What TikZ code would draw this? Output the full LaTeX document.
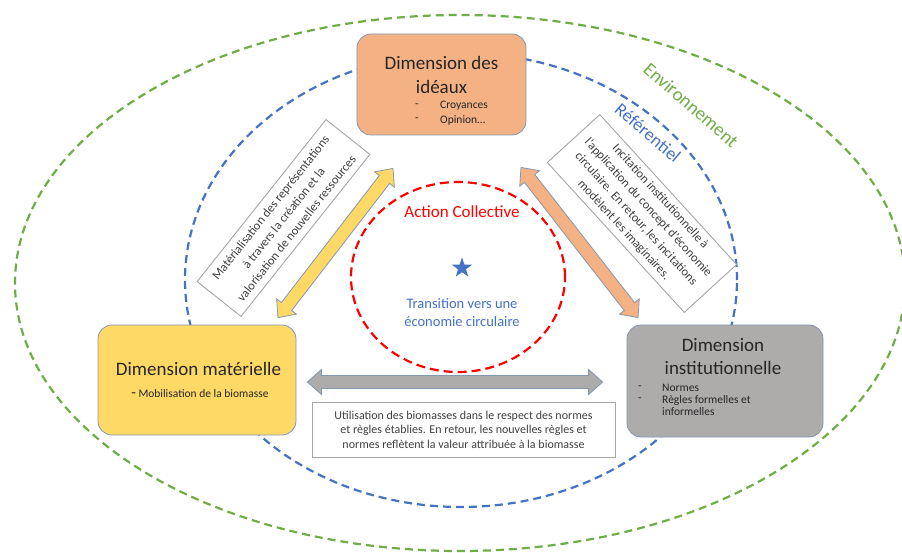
\documentclass[tikz,border=0pt]{standalone}
\usepackage{fontspec}
\setmainfont{Carlito}
\usetikzlibrary{calc,shapes.geometric}
\definecolor{cgreen}{HTML}{70AD47}
\definecolor{cblue}{HTML}{4472C4}
\definecolor{cred}{HTML}{FF0000}
\definecolor{corange}{HTML}{F4B183}
\definecolor{cyellow}{HTML}{FFD966}
\definecolor{cgray}{HTML}{AEABAB}
\definecolor{cedge}{HTML}{8497B0}
\definecolor{ctext}{HTML}{262626}
\definecolor{ctexttwo}{HTML}{404040}
\definecolor{cbox}{HTML}{A6A6A6}
\newcommand\fatarrow[3]{%
\draw[#3] (#1) -- ($(#1)!14pt!(#2)!12.5pt!90:(#2)$) -- ($(#1)!14pt!(#2)!6.5pt!90:(#2)$)
 -- ($(#2)!14pt!(#1)!6.5pt!-90:(#1)$) -- ($(#2)!14pt!(#1)!12.5pt!-90:(#1)$) -- (#2)
 -- ($(#2)!14pt!(#1)!12.5pt!90:(#1)$) -- ($(#2)!14pt!(#1)!6.5pt!90:(#1)$)
 -- ($(#1)!14pt!(#2)!6.5pt!-90:(#2)$) -- ($(#1)!14pt!(#2)!12.5pt!-90:(#2)$) -- cycle;}
\begin{document}
\begin{tikzpicture}[x=1pt,y=-1pt,
  dimbox/.style={draw=cedge, line width=0.8pt, rounded corners=14pt, inner sep=0pt},
  txtbox/.style={draw=cbox, line width=0.9pt, fill=white, inner sep=0pt, align=center, text=ctexttwo, font=\fontsize{12}{14.5}\selectfont},
  rottext/.style={font=\fontsize{12.5}{16.5}\selectfont},
  titletext/.style={text=ctext, font=\fontsize{19}{23.5}\selectfont, align=center, inner sep=0pt},
  itemtext/.style={text=ctext, font=\fontsize{11.5}{14}\selectfont, inner sep=0pt},
  ring/.style={line width=2.2pt, dash pattern=on 8pt off 5pt},
  fatstyle/.style={draw=cedge, line width=0.8pt, line join=miter}]
\useasboundingbox (0,0) rectangle (902,553);
% rings
\draw[ring, cgreen] (460,283) ellipse [x radius=445pt, y radius=268pt];
\draw[ring, cblue] (461,280) ellipse [x radius=276pt, y radius=227pt];
\draw[ring, cred, dash pattern=on 9pt off 5pt] (458,277) ellipse [x radius=107pt, y radius=95pt];
\node[text=cgreen, font=\fontsize{19}{19}\selectfont, rotate=-41, inner sep=0pt] (env) at (691,105) {Environnement};
\node[text=cblue, font=\fontsize{18}{18}\selectfont, rotate=-40.5, inner sep=0pt] (ref) at (648,133) {Référentiel};
\node[text=cred, font=\fontsize{17}{17}\selectfont, inner sep=0pt] (action) at (462,212) {Action Collective};
\node[star, star points=5, star point ratio=2.5, fill=cblue, minimum size=21pt, inner sep=0pt] (star) at (462,268) {};
\node[text=cblue, font=\fontsize{14.5}{18}\selectfont, align=center, inner sep=0pt] (transition) at (462,313) {Transition vers une\\économie circulaire};
% boxes
\node[dimbox, fill=corange, minimum width=169pt, minimum height=101pt] (ideaux) at (441.5,84.5) {};
\node[dimbox, fill=cyellow, minimum width=198pt, minimum height=110pt] (materielle) at (197,380) {};
\node[dimbox, fill=cgray, minimum width=196pt, minimum height=112pt] (institution) at (725,381) {};
% arrow ends
\coordinate (ya) at ($(ideaux.south)+(-48.5,33)$);
\coordinate (yb) at ($(materielle.north)+(81,-7)$);
\coordinate (oa) at ($(ideaux.south)+(79.5,32)$);
\coordinate (ob) at ($(institution.north)+(-87,-7)$);
\coordinate (ga) at ($(materielle.east)+(11,2)$);
\coordinate (gb) at ($(institution.west)+(-24,1)$);
\fatarrow{ya}{yb}{fatstyle, fill=cyellow}
\fatarrow{oa}{ob}{fatstyle, fill=corange}
\fatarrow{ga}{gb}{fatstyle, fill=cgray}
% box texts
\node[titletext] (tideaux) at (441.5,75) {Dimension des\\idéaux};
\node[itemtext] (d1) at (417,106) {-};
\node[itemtext, anchor=west] (i1) at (440,106) {Croyances};
\node[itemtext] (d2) at (417,120) {-};
\node[itemtext, anchor=west] (i2) at (440,120) {Opinion…};
\node[titletext] (tmat) at (198.5,369) {Dimension matérielle};
\node[itemtext] (imat) at (200,394) {{\fontsize{15}{15}\selectfont -} Mobilisation de la biomasse};
\node[titletext] (tinst) at (723,356.5) {Dimension\\institutionnelle};
\node[itemtext] (d3) at (640,388) {-};
\node[itemtext, anchor=west] (i3) at (662,388) {Normes};
\node[itemtext] (d4) at (640,400) {-};
\node[itemtext, anchor=west] (i4) at (662,400) {Règles formelles et};
\node[itemtext, anchor=west] (i5) at (662,411.5) {informelles};
% text boxes
\node[txtbox, minimum width=303pt, minimum height=55pt] (tbottom) at (463.5,429.5) {Utilisation des biomasses dans le respect des normes\\et règles établies. En retour, les nouvelles règles et\\normes reflètent la valeur attribuée à la biomasse};
\node[txtbox, rotate=51.5, minimum width=207pt, minimum height=56pt, rottext] (tleft) at (283.5,218) {Matérialisation des représentations\\à travers la création et la\\valorisation de nouvelles ressources};
\node[txtbox, rotate=-47.6, minimum width=203pt, minimum height=71pt, rottext] (tright) at (642,213.5) {Incitation institutionnelle à\\l'application du concept d'économie\\circulaire. En retour, les incitations\\modèlent les imaginaires.};
\end{tikzpicture}
\end{document}
